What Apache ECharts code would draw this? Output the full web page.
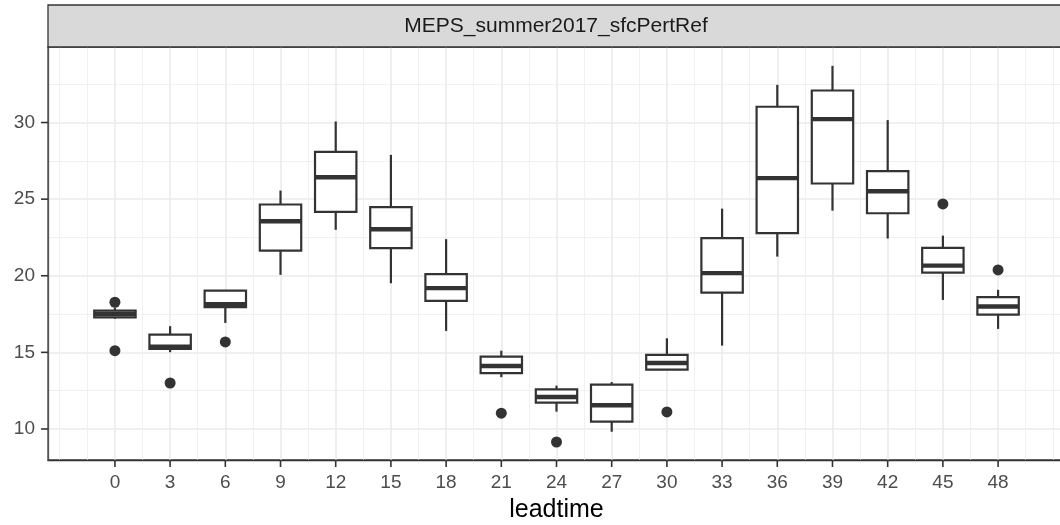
<!DOCTYPE html>
<html>
<head>
<meta charset="utf-8">
<title>MEPS_summer2017_sfcPertRef</title>
<script src="https://cdn.jsdelivr.net/npm/echarts@6/dist/echarts.min.js"></script>
<style>
  html, body { margin: 0; padding: 0; background: #ffffff; }
  #chart { width: 1060px; height: 525px; }
</style>
</head>
<body>
<div id="chart"></div>
<script>
// Box statistics per lead time (hours)
const leadtime    = [0, 3, 6, 9, 12, 15, 18, 21, 24, 27, 30, 33, 36, 39, 42, 45, 48];
const whiskerLow  = [17.20, 15.01, 16.92, 20.06, 23.00, 19.51, 16.40, 13.38, 11.13, 9.82, 13.87, 15.44, 21.25, 24.25, 22.43, 18.42, 16.53];
const lowerQ      = [17.28, 15.22, 17.95, 21.64, 24.17, 21.80, 18.36, 13.64, 11.72, 10.48, 13.87, 18.90, 22.78, 26.02, 24.08, 20.21, 17.46];
const medianVal   = [17.50, 15.37, 18.14, 23.56, 26.43, 23.04, 19.19, 14.11, 12.09, 11.55, 14.31, 20.17, 26.37, 30.22, 25.52, 20.66, 17.99];
const upperQ      = [17.72, 16.16, 19.03, 24.65, 28.09, 24.48, 20.10, 14.72, 12.59, 12.90, 14.83, 22.45, 31.03, 32.09, 26.83, 21.82, 18.60];
const whiskerHigh = [17.90, 16.71, 19.03, 25.56, 30.07, 27.89, 22.39, 15.11, 12.83, 13.06, 15.92, 24.38, 32.46, 33.70, 30.16, 22.62, 19.08];

// Outlying points: lead time and value
const outlierLead  = [0, 0, 3, 6, 21, 24, 30, 45, 48];
const outlierValue = [18.27, 15.11, 13.00, 15.68, 11.03, 9.15, 11.11, 24.69, 20.38];

// Axis breaks
const xBreaks      = [0, 3, 6, 9, 12, 15, 18, 21, 24, 27, 30, 33, 36, 39, 42, 45, 48];
const xMinorBreaks = [-3, -1.5, 1.5, 4.5, 7.5, 10.5, 13.5, 16.5, 19.5, 22.5, 25.5, 28.5, 31.5, 34.5, 37.5, 40.5, 43.5, 46.5, 49.5, 51];
const yBreaks      = [10, 15, 20, 25, 30];
const yMinorBreaks = [12.5, 17.5, 22.5, 27.5, 32.5];

const facetTitle = 'MEPS_summer2017_sfcPertRef';
const xTitle = 'leadtime';

const FONT = '"Liberation Sans", Arial, sans-serif';
const INK = '#333333';
const BOX_WIDTH = 2.25; // in lead-time units
const TICK_LEN = 7;

const xRange = [-3.6375, 51.6375];
const yRange = [7.975, 34.93];

const boxData = leadtime.map((lt, i) => [lt, whiskerLow[i], lowerQ[i], medianVal[i], upperQ[i], whiskerHigh[i]]);
const outlierData = outlierLead.map((lt, i) => [lt, outlierValue[i]]);

// Tick marks sit just outside the panel, on its bottom and left edges
const tickData = xBreaks.map(v => [v, yRange[0], 0]).concat(yBreaks.map(v => [xRange[0], v, 1]));

function renderBox(params, api) {
  const x = api.value(0);
  const pLo  = api.coord([x, api.value(1)]);
  const pQ1  = api.coord([x, api.value(2)]);
  const pMed = api.coord([x, api.value(3)]);
  const pQ3  = api.coord([x, api.value(4)]);
  const pHi  = api.coord([x, api.value(5)]);
  const half = api.size([BOX_WIDTH, 0])[0] / 2;
  const cx = pMed[0];
  return {
    type: 'group',
    children: [
      { type: 'line', shape: { x1: cx, y1: pQ3[1], x2: cx, y2: pHi[1] },
        style: { stroke: INK, lineWidth: 2.2 } },
      { type: 'line', shape: { x1: cx, y1: pQ1[1], x2: cx, y2: pLo[1] },
        style: { stroke: INK, lineWidth: 2.2 } },
      { type: 'rect', shape: { x: cx - half, y: pQ3[1], width: half * 2, height: pQ1[1] - pQ3[1] },
        style: { fill: '#ffffff', stroke: INK, lineWidth: 2.2 } },
      { type: 'line', shape: { x1: cx - half, y1: pMed[1], x2: cx + half, y2: pMed[1] },
        style: { stroke: INK, lineWidth: 4.4 } }
    ]
  };
}

function renderTick(params, api) {
  const p = api.coord([api.value(0), api.value(1)]);
  const vertical = api.value(2) === 0;
  const shape = vertical
    ? { x1: p[0], y1: p[1], x2: p[0], y2: p[1] + TICK_LEN }
    : { x1: p[0] - TICK_LEN, y1: p[1], x2: p[0], y2: p[1] };
  return { type: 'line', shape: shape, style: { stroke: INK, lineWidth: 1.6 } };
}

const chart = echarts.init(document.getElementById('chart'), null, { renderer: 'canvas' });

chart.setOption({
  animation: false,
  backgroundColor: '#ffffff',
  grid: {
    left: 48, top: 47, right: -5, bottom: 65,
    outerBoundsMode: 'none',
    containLabel: false,
    show: true, backgroundColor: '#ffffff',
    borderColor: '#444444', borderWidth: 1.3
  },
  graphic: [
    {
      type: 'rect', z: 10,
      shape: { x: 48, y: 5, width: 1030, height: 42 },
      style: { fill: '#D9D9D9', stroke: INK, lineWidth: 1.3 }
    },
    {
      type: 'text', z: 11,
      x: 556, y: 26,
      style: {
        text: facetTitle, fill: '#1A1A1A',
        font: '21px ' + FONT,
        textAlign: 'center', textVerticalAlign: 'middle'
      }
    }
  ],
  xAxis: [
    {
      type: 'value', min: xRange[0], max: xRange[1],
      name: xTitle, nameLocation: 'middle', nameGap: 38,
      nameTextStyle: { color: '#000000', fontSize: 25, fontFamily: FONT },
      axisLine: { show: true, onZero: false, lineStyle: { color: INK, width: 1.3 } },
      axisTick: { show: false, customValues: xBreaks },
      axisLabel: { customValues: xBreaks, color: '#4D4D4D', fontSize: 19, fontFamily: FONT, margin: 13 },
      splitLine: { show: true, lineStyle: { color: '#EBEBEB', width: 1.6 } }
    },
    {
      type: 'value', min: xRange[0], max: xRange[1], position: 'bottom',
      axisLine: { show: false, onZero: false },
      axisTick: { show: false, customValues: xMinorBreaks },
      axisLabel: { show: false, customValues: xMinorBreaks },
      splitLine: { show: true, lineStyle: { color: '#EFEFEF', width: 0.9 } }
    }
  ],
  yAxis: [
    {
      type: 'value', min: yRange[0], max: yRange[1],
      axisLine: { show: true, onZero: false, lineStyle: { color: '#555555', width: 1.3 } },
      axisTick: { show: false, customValues: yBreaks },
      axisLabel: { customValues: yBreaks, color: '#4D4D4D', fontSize: 19, fontFamily: FONT, margin: 13 },
      splitLine: { show: true, lineStyle: { color: '#EBEBEB', width: 1.6 } }
    },
    {
      type: 'value', min: yRange[0], max: yRange[1], position: 'left',
      axisLine: { show: false, onZero: false },
      axisTick: { show: false, customValues: yMinorBreaks },
      axisLabel: { show: false, customValues: yMinorBreaks },
      splitLine: { show: true, lineStyle: { color: '#EFEFEF', width: 0.9 } }
    }
  ],
  series: [
    {
      type: 'custom', name: 'box',
      xAxisIndex: 0, yAxisIndex: 0,
      renderItem: renderBox,
      encode: { x: 0, y: [1, 2, 3, 4, 5] },
      data: boxData,
      z: 3
    },
    {
      type: 'scatter', name: 'outlier',
      xAxisIndex: 0, yAxisIndex: 0,
      symbol: 'circle', symbolSize: 11,
      itemStyle: { color: INK, opacity: 1 },
      data: outlierData,
      z: 4
    },
    {
      type: 'custom', name: 'ticks',
      xAxisIndex: 0, yAxisIndex: 0,
      renderItem: renderTick,
      clip: false, silent: true,
      encode: { x: 0, y: 1 },
      data: tickData,
      z: 5
    }
  ]
});
</script>
</body>
</html>
